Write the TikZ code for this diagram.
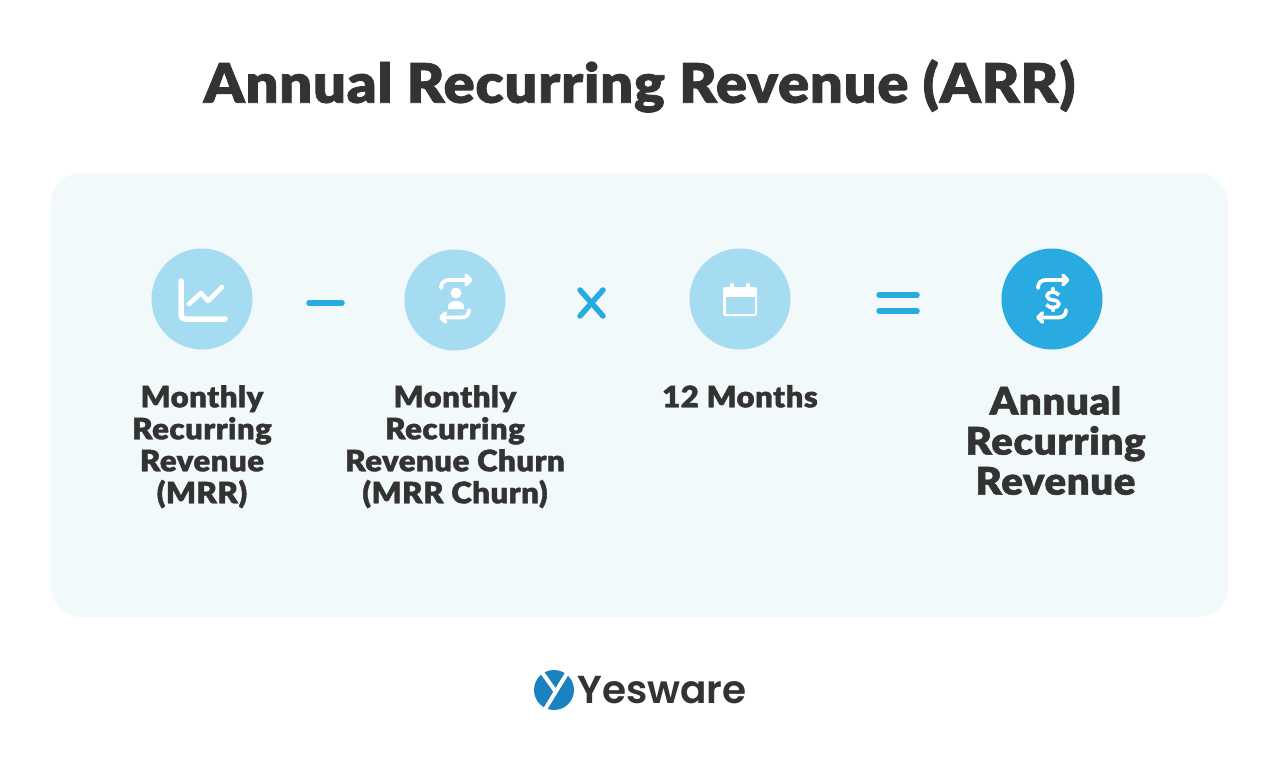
\documentclass[tikz,border=0pt]{standalone}
\usepackage{fontspec}
\setmainfont{Lato Black}[FakeBold=1.4,FakeStretch=1.06,LetterSpace=1.5]
\newfontfamily\logofont{Poppins SemiBold}
\definecolor{panelc}{HTML}{F1F9FB}
\definecolor{lightc}{HTML}{A5DCF1}
\definecolor{bluec}{HTML}{29ABE2}
\definecolor{inkc}{HTML}{333333}
\definecolor{logoc}{HTML}{1B82BF}
\tikzset{
 disc/.style={circle,minimum size=101pt,inner sep=0pt,fill=lightc},
 lab/.style={text=inkc,align=center,font=\fontsize{29.5}{32}\selectfont,inner sep=0pt,anchor=north},
 ico/.style={draw=white,line width=3.8pt,line cap=round,line join=round},
 op/.style={draw=bluec,line width=5.5pt,line cap=round},
 pics/swap/.style={code={
  \draw[ico] (441,288) .. controls (441,283) and (444,280) .. (449,280) -- (469,280);
  \draw[ico] (466,275.5) -- (470.5,280) -- (466,284.5);
  \draw[ico] (469,310) .. controls (469,315) and (466,317.5) .. (461,317.5) -- (442,317.5);
  \draw[ico] (445.5,313) -- (441,317.5) -- (445.5,322);
 }},
}
\begin{document}
\begin{tikzpicture}[x=1pt,y=-1pt]
\useasboundingbox (0,0) rectangle (1280,765);
\fill[white] (0,0) rectangle (1280,765);
\node[text=inkc,font=\fontsize{54.5}{60}\selectfont,inner sep=0pt] (title) at (639.5,86) {Annual Recurring Revenue (ARR)};
\fill[panelc,rounded corners=30pt] (51,173) rectangle (1228,617);
\node[disc] (c1) at (202,299) {};
\node[disc] (c2) at (455,300) {};
\node[disc] (c3) at (740,299) {};
\node[disc,fill=bluec] (c4) at (1052,299) {};
\node[lab] (t1) at (202,385) {Monthly\\Recurring\\Revenue\\(MRR)};
\node[lab] (t2) at (455,385) {Monthly\\Recurring\\Revenue Churn\\(MRR Churn)};
\node[lab] (t3) at (740,385) {12 Months};
\node[lab,font=\fontsize{38}{40}\selectfont] (t4) at (1055.5,386) {Annual\\Recurring\\Revenue};
% operators
\draw[op] (309,303) -- (342,303);
\draw[op] (580,290) -- (603,316) (603,290) -- (580,316);
\draw[op] (879,295) -- (917,295) (879,311) -- (917,311);
% chart icon
\draw[ico,line width=5.5pt] (181,281) -- (181,315) arc[start angle=180,end angle=90,radius=4] -- (225,319);
\draw[ico,line width=4.6pt] (189,304) -- (201,293) -- (208,301) -- (222,287);
% person icon
\pic at (0,0) {swap};
\fill[white] (456,293) circle[radius=5.5];
\fill[white] (448,309) -- (448,306.5) .. controls (448,303) and (452,301) .. (456,301) .. controls (460,301) and (464,303) .. (464,306.5) -- (464,309) -- cycle;
% calendar icon
\fill[white,rounded corners=2.5pt] (723,287) rectangle (757,316);
\fill[lightc] (725.5,296.5) rectangle (754.5,313.5);
\draw[ico,line width=3.4pt] (732,284.5) -- (732,288) (748,284.5) -- (748,288);
% dollar icon
\pic at (597,0) {swap};
\draw[ico,line width=3.6pt,line cap=butt] (1059,295) .. controls (1057,292.5) and (1054,292) .. (1052,292) .. controls (1049,292) and (1047,294) .. (1047,296) .. controls (1047,299) and (1050,299.5) .. (1053,300) .. controls (1056.5,300.5) and (1059,301.5) .. (1059,304) .. controls (1059,306.5) and (1056,307.5) .. (1053,307.5) .. controls (1050.5,307.5) and (1048,307) .. (1046.5,304.5);
\draw[ico,line width=3.2pt] (1053,288.5) -- (1053,291) (1053,308) -- (1053,310.5);
% logo
\fill[logoc] (554,690) circle[radius=20];
\draw[white,line width=4pt] (541,671) -- (556,692);
\draw[white,line width=4pt] (569,670) -- (544,711);
\node[text=inkc,font=\logofont\fontsize{39}{40}\selectfont,inner sep=0pt,anchor=base west] (logo) at (577,703) {Yesware};
\end{tikzpicture}
\end{document}
